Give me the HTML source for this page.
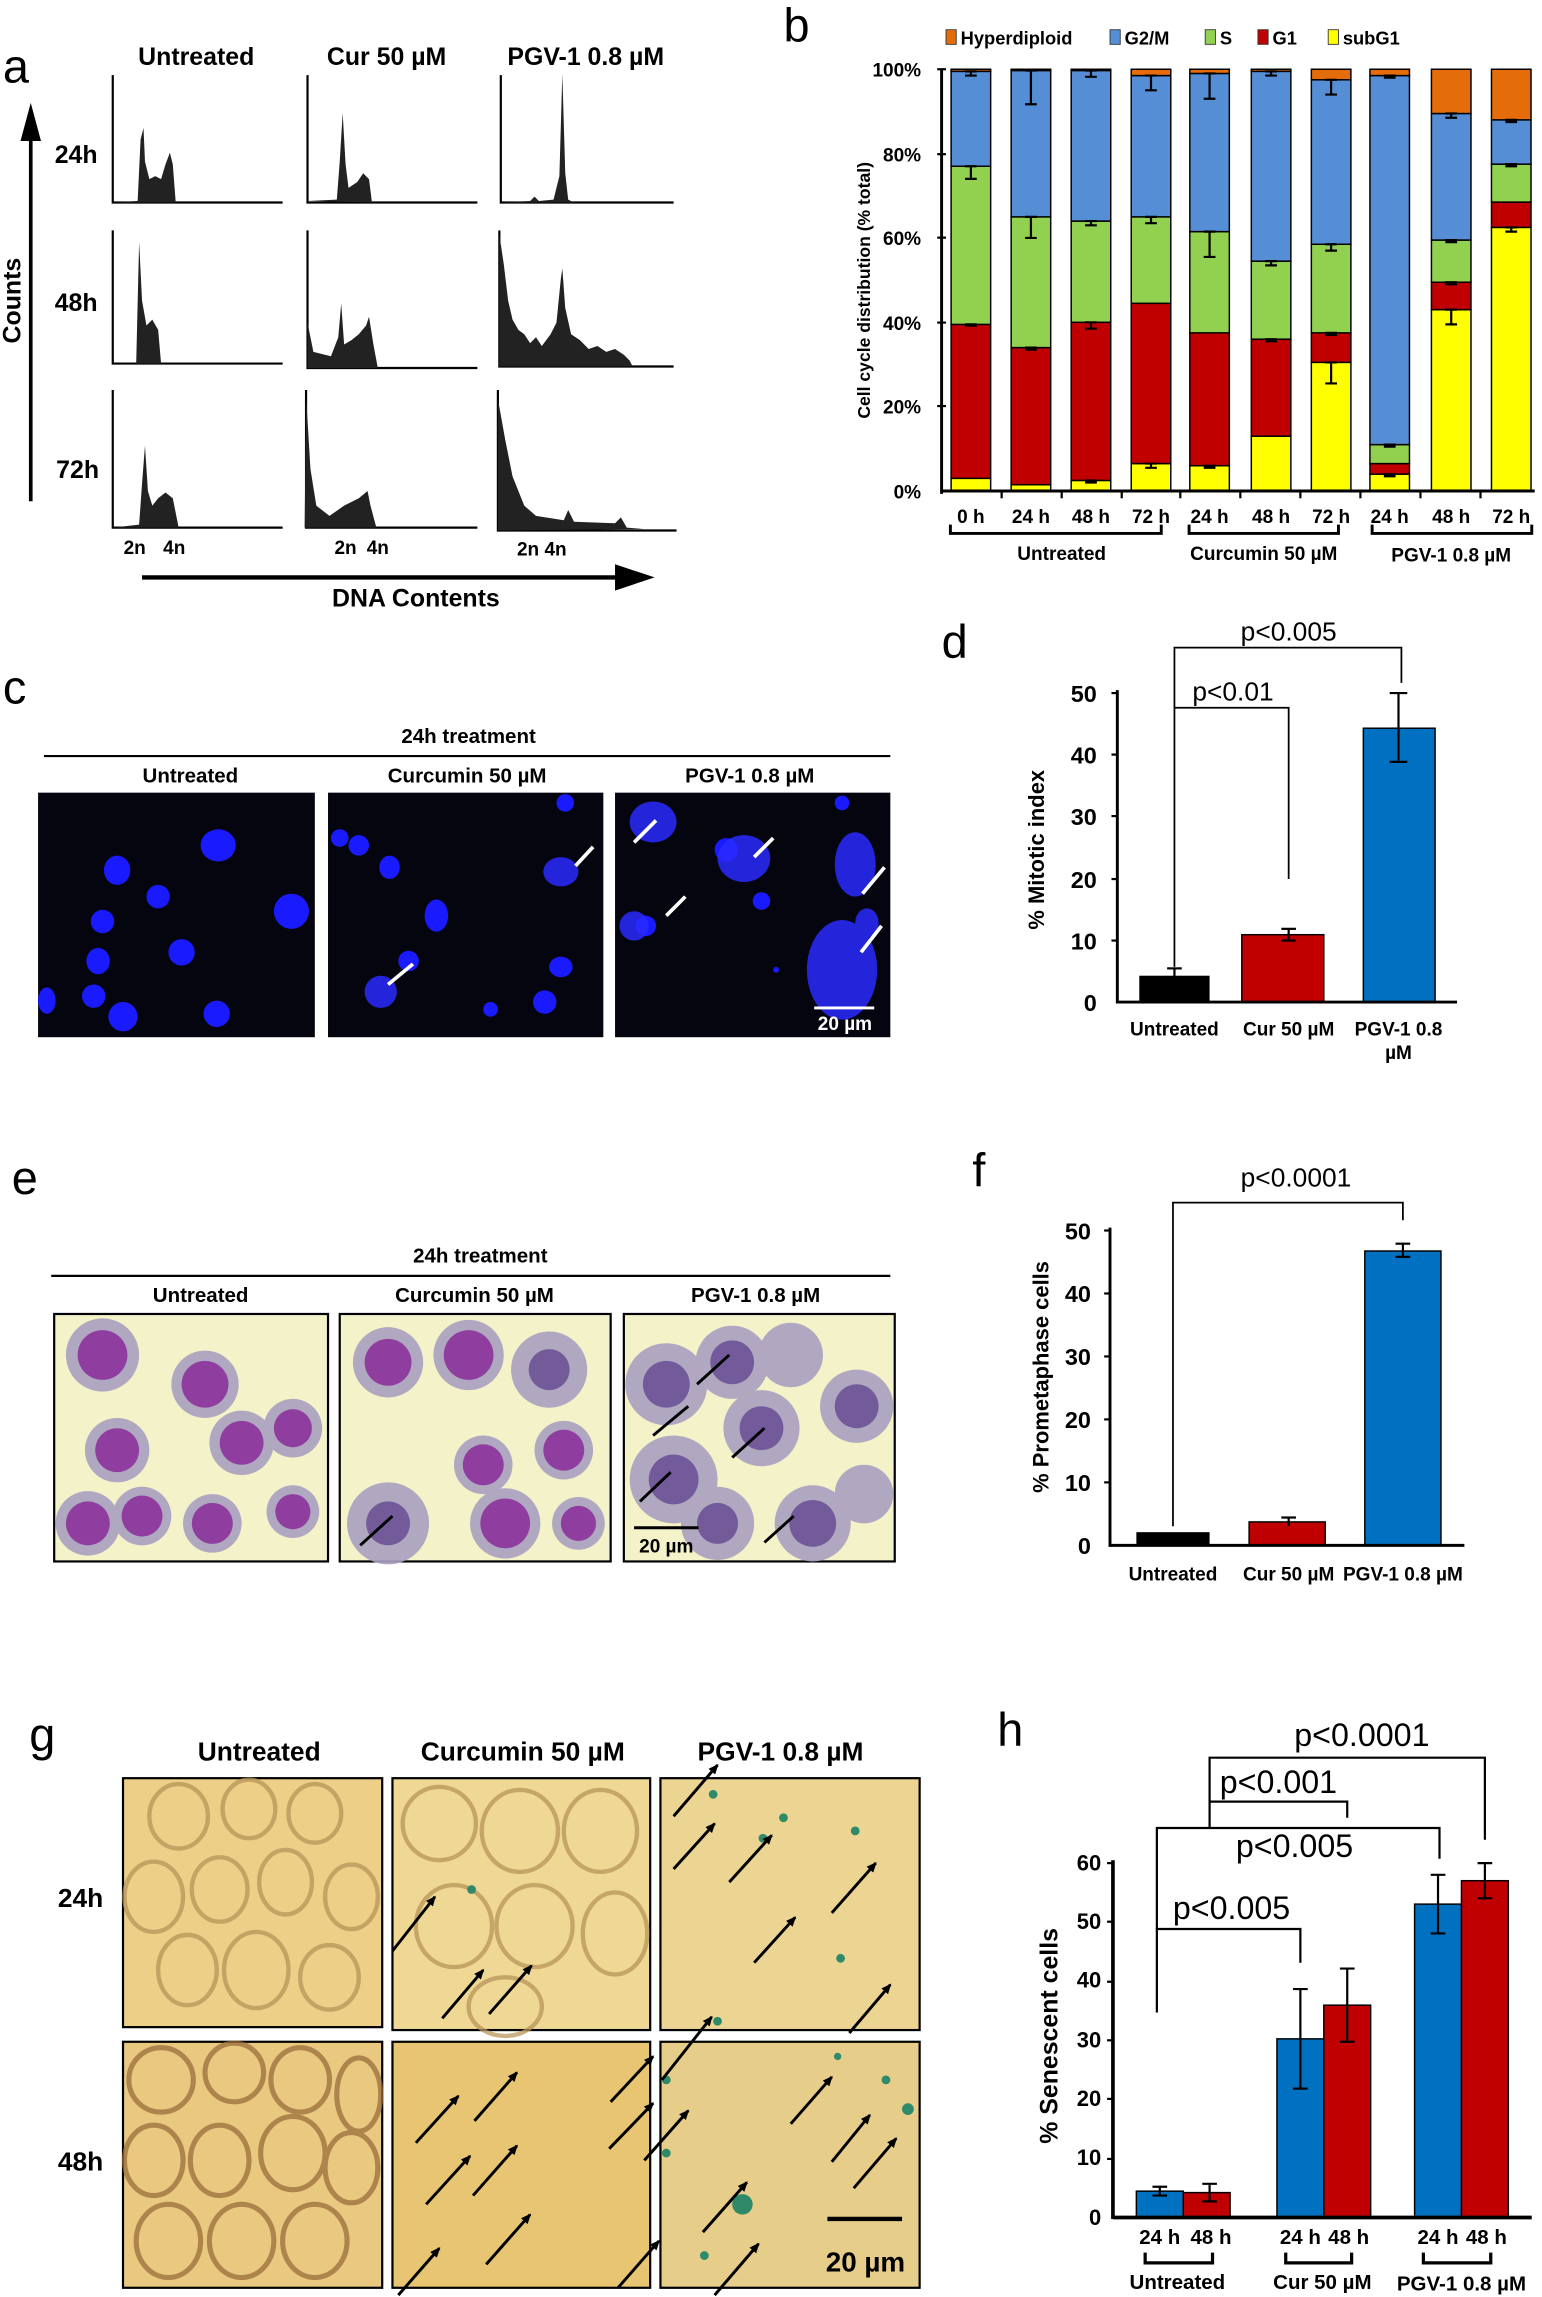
<!DOCTYPE html>
<html><head><meta charset="utf-8"><style>
html,body{margin:0;padding:0;background:#fff}
svg{display:block}
text{font-family:"Liberation Sans Narrow","Liberation Sans",sans-serif}
.b{font-weight:bold}
.L{font-family:"Liberation Sans",sans-serif;font-size:32px}
.p{font-family:"Liberation Sans",sans-serif;font-weight:normal}
</style></head><body>
<svg width="1542" height="2297" viewBox="0 0 1053 1568" xmlns="http://www.w3.org/2000/svg">
<defs>
<marker id="ah" markerWidth="8" markerHeight="8" refX="6" refY="4" orient="auto" markerUnits="userSpaceOnUse"><path d="M0,1 L7,4 L0,7 Z" fill="#000"/></marker>
</defs>
<!-- ===== Panel a ===== -->
<text x="2" y="56" class="L">a</text>
<g class="b" font-size="17" text-anchor="middle" font-weight="bold">
<text x="134" y="44">Untreated</text><text x="264" y="44">Cur 50 µM</text><text x="400" y="44">PGV-1 0.8 µM</text>
<text x="52" y="111">24h</text><text x="52" y="212">48h</text><text x="53" y="326">72h</text>
</g>
<line x1="21" y1="342" x2="21" y2="92" stroke="#000" stroke-width="2.5"/>
<path d="M14,96 L21,70 L28,96 Z" fill="#000"/>
<text transform="translate(14,205) rotate(-90)" text-anchor="middle" font-size="17" font-weight="bold" font-family="Liberation Sans" style="font-family:'Liberation Sans',sans-serif">Counts</text>
<g stroke="#000" stroke-width="1.5" fill="none">
<path d="M77,51 V138 H193"/><path d="M210,51 V138 H326"/><path d="M342,51 V138 H460"/>
<path d="M77,157 V248 H193"/><path d="M210,157 V251 H326"/><path d="M341,157 V250 H460"/>
<path d="M77,266 V360 H193"/><path d="M209,266 V360 H326"/><path d="M340,266 V362 H462"/>
</g>
<g fill="#222">
<path d="M77,138 L94,137 L96,95 L98,87 L99,110 L102,122 L106,120 L110,122 L113,112 L116,104 L118,112 L120,138 Z"/>
<path d="M210,137 L230,136 L232,110 L234,77 L236,112 L238,128 L244,124 L248,118 L252,122 L254,138 Z"/>
<path d="M342,138 L362,137 L365,134 L368,137 L378,136 L382,120 L384,50 L386,118 L388,136 L392,138 Z"/>
<path d="M77,248 L93,248 L95,165 L97,205 L100,222 L104,218 L108,225 L110,248 Z"/>
<path d="M210,251 L210,220 L214,240 L226,243 L231,230 L233,207 L235,235 L240,232 L245,228 L250,222 L252,216 L255,235 L258,251 Z"/>
<path d="M341,250 L341,160 L344,180 L347,205 L350,218 L354,225 L358,228 L362,234 L366,230 L370,236 L376,228 L380,220 L383,190 L384,183 L386,210 L390,228 L396,232 L402,238 L408,236 L414,240 L420,238 L426,242 L430,246 L432,250 Z"/>
<path d="M77,360 L95,358 L97,330 L99,304 L101,335 L104,345 L108,340 L113,336 L118,340 L122,360 Z"/>
<path d="M208,360 L209,270 L212,320 L216,345 L225,352 L235,345 L245,340 L251,335 L253,345 L257,360 Z"/>
<path d="M340,362 L340,272 L345,300 L350,325 L358,345 L366,352 L385,355 L388,348 L392,356 L420,357 L424,353 L428,360 L440,361 Z"/>
</g>
<g font-size="13" font-weight="bold" text-anchor="middle">
<text x="92" y="378">2n</text><text x="119" y="378">4n</text>
<text x="236" y="378">2n</text><text x="258" y="378">4n</text>
<text x="370" y="379">2n 4n</text>
</g>
<line x1="97" y1="394" x2="425" y2="394" stroke="#000" stroke-width="3"/>
<path d="M420,385 L447,394 L420,403 Z" fill="#000"/>
<text x="284" y="414" text-anchor="middle" font-size="17" font-weight="bold">DNA Contents</text>

<!-- ===== Panel b ===== -->
<text x="535" y="28" class="L">b</text>
<g font-size="12.5" font-weight="bold">
<rect x="646" y="20" width="7" height="10" fill="#e46c0a" stroke="#333" stroke-width="0.6"/><text x="656" y="30">Hyperdiploid</text>
<rect x="758" y="20" width="7" height="10" fill="#558ed5" stroke="#333" stroke-width="0.6"/><text x="768" y="30">G2/M</text>
<rect x="823" y="20" width="7" height="10" fill="#92d050" stroke="#333" stroke-width="0.6"/><text x="833" y="30">S</text>
<rect x="859" y="20" width="7" height="10" fill="#c00000" stroke="#333" stroke-width="0.6"/><text x="869" y="30">G1</text>
<rect x="907" y="20" width="7" height="10" fill="#ffff00" stroke="#333" stroke-width="0.6"/><text x="917" y="30">subG1</text>
</g>
<g font-size="13" font-weight="bold" text-anchor="end">
<text x="629" y="52">100%</text><text x="629" y="110">80%</text><text x="629" y="167">60%</text>
<text x="629" y="225">40%</text><text x="629" y="282">20%</text><text x="629" y="340">0%</text>
</g>
<text transform="translate(594,198) rotate(-90)" text-anchor="middle" font-size="12" font-weight="bold" style="font-family:'Liberation Sans',sans-serif">Cell  cycle distribution  (% total)</text>
<g id="bbars" stroke="#000" stroke-width="1"></g>
<line x1="643" y1="47" x2="643" y2="337" stroke="#000" stroke-width="2"/>
<line x1="643" y1="335" x2="1048" y2="335" stroke="#000" stroke-width="2"/>
<g stroke="#000" stroke-width="1.5">
<line x1="640" y1="47" x2="646" y2="47"/><line x1="640" y1="105" x2="646" y2="105"/><line x1="640" y1="162" x2="646" y2="162"/><line x1="640" y1="220" x2="646" y2="220"/><line x1="640" y1="277" x2="646" y2="277"/>
<line x1="684" y1="335" x2="684" y2="340"/><line x1="725" y1="335" x2="725" y2="340"/><line x1="766" y1="335" x2="766" y2="340"/><line x1="806" y1="335" x2="806" y2="340"/><line x1="847" y1="335" x2="847" y2="340"/><line x1="888" y1="335" x2="888" y2="340"/><line x1="929" y1="335" x2="929" y2="340"/><line x1="970" y1="335" x2="970" y2="340"/><line x1="1011" y1="335" x2="1011" y2="340"/>
</g>
<g font-size="13" font-weight="bold" text-anchor="middle">
<text x="663" y="357">0 h</text><text x="704" y="357">24 h</text><text x="745" y="357">48 h</text><text x="786" y="357">72 h</text>
<text x="826" y="357">24 h</text><text x="868" y="357">48 h</text><text x="909" y="357">72 h</text>
<text x="949" y="357">24 h</text><text x="991" y="357">48 h</text><text x="1032" y="357">72 h</text>
<text x="725" y="382">Untreated</text><text x="863" y="382">Curcumin 50 µM</text><text x="991" y="383">PGV-1 0.8 µM</text>
</g>
<g fill="none" stroke="#000" stroke-width="2">
<path d="M649,358 V364 H793 V358"/><path d="M812,358 V364 H914 V358"/><path d="M937,358 V364 H1046 V358"/>
</g>

<!-- ===== Panel c ===== -->
<text x="2" y="480" class="L">c</text>
<g font-size="14" font-weight="bold" text-anchor="middle">
<text x="320" y="507">24h treatment</text>
<text x="130" y="534">Untreated</text><text x="319" y="534">Curcumin 50 µM</text><text x="512" y="534">PGV-1 0.8 µM</text>
</g>
<line x1="30" y1="516" x2="608" y2="516" stroke="#000" stroke-width="1.5"/>
<rect x="26" y="541" width="189" height="167" fill="#050510"/>
<rect x="224" y="541" width="188" height="167" fill="#050510"/>
<rect x="420" y="541" width="188" height="167" fill="#050510"/>
<g fill="#1a1aff">
<ellipse cx="149" cy="577" rx="12" ry="11"/><ellipse cx="80" cy="594" rx="9" ry="10"/><ellipse cx="108" cy="612" rx="8" ry="8"/><ellipse cx="199" cy="622" rx="12" ry="12"/><ellipse cx="70" cy="629" rx="8" ry="8"/><ellipse cx="124" cy="650" rx="9" ry="9"/><ellipse cx="67" cy="656" rx="8" ry="9"/><ellipse cx="32" cy="683" rx="6" ry="9"/><ellipse cx="64" cy="680" rx="8" ry="8"/><ellipse cx="84" cy="694" rx="10" ry="10"/><ellipse cx="148" cy="692" rx="9" ry="9"/>
<ellipse cx="232" cy="572" rx="6" ry="6"/><ellipse cx="245" cy="577" rx="7" ry="7"/><ellipse cx="266" cy="592" rx="7" ry="8"/><ellipse cx="298" cy="625" rx="8" ry="11"/><ellipse cx="279" cy="656" rx="7" ry="7"/><ellipse cx="386" cy="548" rx="6" ry="6"/><ellipse cx="383" cy="660" rx="8" ry="7"/><ellipse cx="372" cy="684" rx="8" ry="8"/><ellipse cx="335" cy="689" rx="5" ry="5"/>
<ellipse cx="441" cy="632" rx="7" ry="7"/><ellipse cx="496" cy="580" rx="8" ry="8"/><ellipse cx="520" cy="615" rx="6" ry="6"/><ellipse cx="575" cy="548" rx="5" ry="5"/><ellipse cx="530" cy="662" rx="2" ry="2"/>
</g>
<g fill="#2a2aff" opacity="0.85">
<ellipse cx="383" cy="595" rx="12" ry="10"/><ellipse cx="260" cy="677" rx="11" ry="11"/>
<ellipse cx="446" cy="561" rx="16" ry="14"/><ellipse cx="508" cy="586" rx="18" ry="16"/><ellipse cx="584" cy="590" rx="14" ry="22"/><ellipse cx="433" cy="632" rx="10" ry="10"/><ellipse cx="575" cy="662" rx="24" ry="34"/><ellipse cx="592" cy="630" rx="8" ry="10"/>
</g>
<g stroke="#fff" stroke-width="2.5">
<line x1="393" y1="591" x2="405" y2="578"/><line x1="265" y1="672" x2="282" y2="658"/>
<line x1="433" y1="575" x2="448" y2="560"/><line x1="515" y1="585" x2="528" y2="572"/><line x1="455" y1="625" x2="468" y2="612"/><line x1="589" y1="610" x2="604" y2="592"/><line x1="588" y1="650" x2="602" y2="632"/>
</g>
<line x1="556" y1="688" x2="597" y2="688" stroke="#fff" stroke-width="2"/>
<text x="577" y="703" text-anchor="middle" fill="#fff" font-size="13" font-weight="bold">20 µm</text>

<!-- ===== Panel d ===== -->
<text x="643" y="449" class="L">d</text>
<g font-size="16" text-anchor="end" font-weight="bold">
<text x="749" y="479">50</text><text x="749" y="521">40</text><text x="749" y="563">30</text><text x="749" y="606">20</text><text x="749" y="648">10</text><text x="749" y="690">0</text>
</g>
<text transform="translate(713,580) rotate(-90)" text-anchor="middle" font-size="15" font-weight="bold" style="font-family:'Liberation Sans',sans-serif">% Mitotic index</text>
<rect x="778" y="666" width="48" height="18" fill="#000"/>
<rect x="848" y="638" width="56" height="46" fill="#c00000" stroke="#000"/>
<rect x="931" y="497" width="49" height="187" fill="#0070c0" stroke="#000"/>
<g stroke="#000" stroke-width="1.5">
<line x1="802" y1="661" x2="802" y2="671"/><line x1="797" y1="661" x2="807" y2="661"/>
<line x1="880" y1="634" x2="880" y2="642"/><line x1="875" y1="634" x2="885" y2="634"/><line x1="875" y1="642" x2="885" y2="642"/>
<line x1="955" y1="473" x2="955" y2="520"/><line x1="949" y1="473" x2="961" y2="473"/><line x1="949" y1="520" x2="961" y2="520"/>
</g>
<line x1="763" y1="471" x2="763" y2="685" stroke="#000" stroke-width="2"/>
<line x1="763" y1="684" x2="995" y2="684" stroke="#000" stroke-width="2"/>
<g stroke="#000" stroke-width="1.5">
<line x1="759" y1="473" x2="763" y2="473"/><line x1="759" y1="515" x2="763" y2="515"/><line x1="759" y1="557" x2="763" y2="557"/><line x1="759" y1="600" x2="763" y2="600"/><line x1="759" y1="642" x2="763" y2="642"/>
</g>
<g font-size="13" font-weight="bold" text-anchor="middle">
<text x="802" y="707">Untreated</text><text x="880" y="707">Cur 50 µM</text><text x="955" y="707">PGV-1 0.8</text><text x="955" y="723">µM</text>
</g>
<g fill="none" stroke="#000" stroke-width="1.2">
<path d="M802,660 V483 H880 V600"/><path d="M802,483 V442 H957 V466"/>
</g>
<g font-size="18" text-anchor="middle" class="p">
<text x="842" y="478">p&lt;0.01</text><text x="880" y="437">p&lt;0.005</text>
</g>

<!-- ===== Panel e ===== -->
<text x="8" y="815" class="L">e</text>
<g font-size="14" font-weight="bold" text-anchor="middle">
<text x="328" y="862">24h treatment</text>
<text x="137" y="889">Untreated</text><text x="324" y="889">Curcumin 50 µM</text><text x="516" y="889">PGV-1 0.8 µM</text>
</g>
<line x1="35" y1="871" x2="608" y2="871" stroke="#000" stroke-width="1.5"/>
<g stroke="#000" stroke-width="1.5">
<rect x="37" y="897" width="187" height="169" fill="#f4f2c8"/>
<rect x="232" y="897" width="185" height="169" fill="#f4f2c8"/>
<rect x="426" y="897" width="185" height="169" fill="#f4f2c8"/>
</g>
<g fill="#a9a0c0" opacity="0.9">
<circle cx="70" cy="925" r="25"/><circle cx="140" cy="945" r="23"/><circle cx="80" cy="990" r="22"/><circle cx="165" cy="985" r="22"/><circle cx="200" cy="975" r="20"/><circle cx="60" cy="1040" r="22"/><circle cx="97" cy="1035" r="20"/><circle cx="145" cy="1040" r="20"/><circle cx="200" cy="1032" r="18"/>
<circle cx="265" cy="930" r="24"/><circle cx="320" cy="925" r="24"/><circle cx="375" cy="935" r="26"/><circle cx="265" cy="1040" r="28"/><circle cx="330" cy="1000" r="20"/><circle cx="385" cy="990" r="20"/><circle cx="345" cy="1040" r="24"/><circle cx="395" cy="1040" r="18"/>
<circle cx="455" cy="945" r="28"/><circle cx="500" cy="930" r="25"/><circle cx="540" cy="925" r="22"/><circle cx="585" cy="960" r="25"/><circle cx="460" cy="1010" r="30"/><circle cx="520" cy="975" r="26"/><circle cx="555" cy="1040" r="26"/><circle cx="490" cy="1040" r="25"/><circle cx="590" cy="1020" r="20"/>
</g>
<g fill="#8a2c9a" opacity="0.85">
<circle cx="70" cy="925" r="17"/><circle cx="140" cy="945" r="16"/><circle cx="80" cy="990" r="15"/><circle cx="165" cy="985" r="15"/><circle cx="200" cy="975" r="13"/><circle cx="60" cy="1040" r="15"/><circle cx="97" cy="1035" r="14"/><circle cx="145" cy="1040" r="14"/><circle cx="200" cy="1032" r="12"/>
<circle cx="265" cy="930" r="16"/><circle cx="320" cy="925" r="17"/><circle cx="330" cy="1000" r="14"/><circle cx="385" cy="990" r="14"/><circle cx="345" cy="1040" r="17"/><circle cx="395" cy="1040" r="12"/>
</g>
<g fill="#5a3a8a" opacity="0.7">
<circle cx="375" cy="935" r="14"/><circle cx="265" cy="1040" r="15"/><circle cx="455" cy="945" r="16"/><circle cx="500" cy="930" r="15"/><circle cx="585" cy="960" r="15"/><circle cx="460" cy="1010" r="17"/><circle cx="520" cy="975" r="15"/><circle cx="555" cy="1040" r="16"/><circle cx="490" cy="1040" r="14"/>
</g>
<g stroke="#000" stroke-width="2">
<line x1="246" y1="1055" x2="268" y2="1035"/><line x1="437" y1="1025" x2="458" y2="1005"/><line x1="446" y1="980" x2="470" y2="960"/><line x1="476" y1="945" x2="498" y2="925"/><line x1="500" y1="995" x2="522" y2="975"/><line x1="522" y1="1053" x2="542" y2="1035"/>
</g>
<line x1="433" y1="1043" x2="477" y2="1043" stroke="#000" stroke-width="2"/>
<text x="455" y="1060" text-anchor="middle" font-size="13" font-weight="bold">20 µm</text>

<!-- ===== Panel f ===== -->
<text x="664" y="810" class="L">f</text>
<g font-size="16" text-anchor="end" font-weight="bold">
<text x="745" y="846">50</text><text x="745" y="889">40</text><text x="745" y="932">30</text><text x="745" y="975">20</text><text x="745" y="1018">10</text><text x="745" y="1061">0</text>
</g>
<text transform="translate(716,940) rotate(-90)" text-anchor="middle" font-size="15" font-weight="bold" style="font-family:'Liberation Sans',sans-serif">% Prometaphase cells</text>
<rect x="776" y="1046" width="50" height="9" fill="#000"/>
<rect x="853" y="1039" width="52" height="16" fill="#c00000" stroke="#000"/>
<rect x="932" y="854" width="52" height="201" fill="#0070c0" stroke="#000"/>
<g stroke="#000" stroke-width="1.5">
<line x1="958" y1="849" x2="958" y2="858"/><line x1="953" y1="849" x2="963" y2="849"/><line x1="953" y1="858" x2="963" y2="858"/>
<line x1="880" y1="1036" x2="880" y2="1042"/><line x1="875" y1="1036" x2="885" y2="1036"/>
</g>
<line x1="758" y1="838" x2="758" y2="1056" stroke="#000" stroke-width="2"/>
<line x1="758" y1="1055" x2="1000" y2="1055" stroke="#000" stroke-width="2"/>
<g stroke="#000" stroke-width="1.5">
<line x1="754" y1="840" x2="758" y2="840"/><line x1="754" y1="883" x2="758" y2="883"/><line x1="754" y1="926" x2="758" y2="926"/><line x1="754" y1="969" x2="758" y2="969"/><line x1="754" y1="1012" x2="758" y2="1012"/>
</g>
<g font-size="13" font-weight="bold" text-anchor="middle">
<text x="801" y="1079">Untreated</text><text x="880" y="1079">Cur 50 µM</text><text x="958" y="1079">PGV-1 0.8 µM</text>
</g>
<path d="M801,1042 V821 H958 V833" fill="none" stroke="#000" stroke-width="1.2"/>
<text x="885" y="810" text-anchor="middle" font-size="18" class="p">p&lt;0.0001</text>

<!-- ===== Panel g ===== -->
<text x="20" y="1195" class="L">g</text>
<g font-size="18" font-weight="bold" text-anchor="middle">
<text x="177" y="1202">Untreated</text><text x="357" y="1202">Curcumin 50 µM</text><text x="533" y="1202">PGV-1 0.8 µM</text>
<text x="55" y="1302">24h</text><text x="55" y="1482">48h</text>
</g>
<g stroke="#000" stroke-width="1.5">
<rect x="84" y="1214" width="177" height="170" fill="#edcf87"/>
<rect x="268" y="1214" width="176" height="172" fill="#eed894"/>
<rect x="451" y="1214" width="177" height="172" fill="#ecd493"/>
<rect x="84" y="1394" width="177" height="168" fill="#e9c880"/>
<rect x="268" y="1394" width="176" height="168" fill="#e7c572"/>
<rect x="451" y="1394" width="177" height="168" fill="#e6cd8a"/>
</g>
<g fill="none" stroke="#b8955a" stroke-width="3" opacity="0.75">
<ellipse cx="122" cy="1240" rx="20" ry="22"/><ellipse cx="170" cy="1235" rx="18" ry="20"/><ellipse cx="215" cy="1238" rx="18" ry="20"/><ellipse cx="105" cy="1295" rx="20" ry="24"/><ellipse cx="150" cy="1290" rx="19" ry="22"/><ellipse cx="195" cy="1285" rx="18" ry="22"/><ellipse cx="240" cy="1295" rx="18" ry="22"/><ellipse cx="128" cy="1345" rx="20" ry="24"/><ellipse cx="175" cy="1345" rx="22" ry="26"/><ellipse cx="225" cy="1350" rx="20" ry="22"/>
<ellipse cx="300" cy="1245" rx="25" ry="25"/><ellipse cx="355" cy="1250" rx="26" ry="28"/><ellipse cx="410" cy="1250" rx="25" ry="28"/><ellipse cx="310" cy="1315" rx="26" ry="28"/><ellipse cx="365" cy="1315" rx="26" ry="28"/><ellipse cx="420" cy="1320" rx="22" ry="28"/><ellipse cx="345" cy="1370" rx="25" ry="20"/>
</g>
<g fill="none" stroke="#9a6e3a" stroke-width="3.5" opacity="0.75">
<ellipse cx="110" cy="1420" rx="22" ry="22"/><ellipse cx="160" cy="1415" rx="20" ry="20"/><ellipse cx="205" cy="1420" rx="20" ry="22"/><ellipse cx="245" cy="1430" rx="15" ry="25"/><ellipse cx="105" cy="1475" rx="20" ry="24"/><ellipse cx="150" cy="1475" rx="20" ry="24"/><ellipse cx="200" cy="1470" rx="22" ry="25"/><ellipse cx="240" cy="1480" rx="18" ry="24"/><ellipse cx="115" cy="1530" rx="22" ry="25"/><ellipse cx="165" cy="1530" rx="22" ry="25"/><ellipse cx="215" cy="1530" rx="22" ry="25"/>
</g>
<g fill="#2f8a6a">
<circle cx="322" cy="1290" r="3"/><circle cx="487" cy="1225" r="3"/><circle cx="521" cy="1255" r="3"/><circle cx="535" cy="1241" r="3"/><circle cx="584" cy="1250" r="3"/><circle cx="574" cy="1337" r="3"/><circle cx="490" cy="1380" r="3"/>
<circle cx="507" cy="1505" r="7"/><circle cx="572" cy="1404" r="2.5"/><circle cx="455" cy="1420" r="3"/><circle cx="455" cy="1470" r="3"/><circle cx="620" cy="1440" r="4"/><circle cx="605" cy="1420" r="3"/><circle cx="481" cy="1540" r="3"/>
</g>
<g stroke="#000" stroke-width="2" marker-end="url(#ah)">
<line x1="268" y1="1332" x2="297" y2="1295"/><line x1="302" y1="1378" x2="330" y2="1345"/><line x1="334" y1="1375" x2="363" y2="1342"/>
<line x1="460" y1="1240" x2="490" y2="1205"/><line x1="460" y1="1276" x2="488" y2="1245"/><line x1="498" y1="1285" x2="527" y2="1253"/><line x1="515" y1="1340" x2="543" y2="1309"/><line x1="568" y1="1306" x2="598" y2="1272"/><line x1="580" y1="1388" x2="608" y2="1355"/>
<line x1="452" y1="1420" x2="486" y2="1377"/><line x1="284" y1="1463" x2="313" y2="1431"/><line x1="324" y1="1448" x2="353" y2="1415"/><line x1="291" y1="1505" x2="321" y2="1472"/><line x1="323" y1="1499" x2="353" y2="1465"/><line x1="332" y1="1546" x2="362" y2="1512"/><line x1="272" y1="1567" x2="300" y2="1535"/>
<line x1="417" y1="1435" x2="446" y2="1404"/><line x1="416" y1="1467" x2="446" y2="1436"/><line x1="440" y1="1475" x2="470" y2="1441"/><line x1="422" y1="1562" x2="450" y2="1530"/><line x1="488" y1="1567" x2="518" y2="1532"/><line x1="480" y1="1524" x2="510" y2="1490"/><line x1="540" y1="1450" x2="568" y2="1418"/><line x1="568" y1="1476" x2="594" y2="1444"/><line x1="583" y1="1494" x2="612" y2="1460"/>
</g>
<line x1="565" y1="1515" x2="616" y2="1515" stroke="#000" stroke-width="3"/>
<text x="591" y="1551" text-anchor="middle" font-size="19" font-weight="bold">20 µm</text>

<!-- ===== Panel h ===== -->
<text x="681" y="1192" class="L">h</text>
<g font-size="15" text-anchor="end" font-weight="bold">
<text x="752" y="1277">60</text><text x="752" y="1317">50</text><text x="752" y="1357">40</text><text x="752" y="1398">30</text><text x="752" y="1438">20</text><text x="752" y="1478">10</text><text x="752" y="1519">0</text>
</g>
<text transform="translate(722,1390) rotate(-90)" text-anchor="middle" font-size="17" font-weight="bold" style="font-family:'Liberation Sans',sans-serif">% Senescent cells</text>
<g stroke="#000" stroke-width="1">
<rect x="776" y="1496" width="32" height="18" fill="#0070c0"/><rect x="808" y="1497" width="32" height="17" fill="#c00000"/>
<rect x="872" y="1392" width="32" height="122" fill="#0070c0"/><rect x="904" y="1369" width="32" height="145" fill="#c00000"/>
<rect x="966" y="1300" width="32" height="214" fill="#0070c0"/><rect x="998" y="1284" width="32" height="230" fill="#c00000"/>
</g>
<g stroke="#000" stroke-width="1.5" fill="none">
<path d="M792,1493 V1499 M787,1493 H797 M787,1499 H797"/>
<path d="M826,1491 V1503 M821,1491 H831 M821,1503 H831"/>
<path d="M888,1358 V1426 M883,1358 H893 M883,1426 H893"/>
<path d="M920,1344 V1394 M915,1344 H925 M915,1394 H925"/>
<path d="M982,1280 V1320 M977,1280 H987 M977,1320 H987"/>
<path d="M1014,1272 V1296 M1009,1272 H1019 M1009,1296 H1019"/>
</g>
<line x1="760" y1="1270" x2="760" y2="1515" stroke="#000" stroke-width="2.5"/>
<line x1="760" y1="1514" x2="1046" y2="1514" stroke="#000" stroke-width="2.5"/>
<g stroke="#000" stroke-width="1.5">
<line x1="756" y1="1272" x2="760" y2="1272"/><line x1="756" y1="1312" x2="760" y2="1312"/><line x1="756" y1="1353" x2="760" y2="1353"/><line x1="756" y1="1393" x2="760" y2="1393"/><line x1="756" y1="1433" x2="760" y2="1433"/><line x1="756" y1="1474" x2="760" y2="1474"/>
</g>
<g font-size="14" font-weight="bold" text-anchor="middle">
<text x="792" y="1532">24 h</text><text x="827" y="1532">48 h</text><text x="888" y="1532">24 h</text><text x="921" y="1532">48 h</text><text x="982" y="1532">24 h</text><text x="1015" y="1532">48 h</text>
<text x="804" y="1563">Untreated</text><text x="903" y="1563">Cur 50 µM</text><text x="998" y="1564">PGV-1 0.8 µM</text>
</g>
<g fill="none" stroke="#000" stroke-width="2.2">
<path d="M782,1538 V1545 H828 V1538"/><path d="M878,1538 V1545 H923 V1538"/><path d="M972,1538 V1545 H1018 V1538"/>
</g>
<g fill="none" stroke="#000" stroke-width="1.5">
<path d="M790,1374 V1317 H888 V1340"/>
<path d="M790,1317 V1248 H983 V1269"/>
<path d="M826,1248 V1230 H920 V1241"/>
<path d="M826,1230 V1200 H1014 V1256"/>
</g>
<g font-size="22" text-anchor="middle" class="p">
<text x="841" y="1310">p&lt;0.005</text><text x="884" y="1268">p&lt;0.005</text><text x="873" y="1224">p&lt;0.001</text><text x="930" y="1192">p&lt;0.0001</text>
</g>

<script>
(function(){
var g=document.getElementById('bbars');
var xs=[663,704,745,786,826,868,909,949,991,1032];
var d=[[3,39.5,77,99.5],[1.5,34,65,99.7],[2.5,40,64,99.7],[6.5,44.5,65,98.5],[6,37.5,61.5,99],[13,36,54.5,99.5],[30.5,37.5,58.5,97.5],[4,6.5,11,98.5],[43,49.5,59.5,89.5],[62.5,68.5,77.5,88]];
var cols=['#ffff00','#c00000','#92d050','#558ed5','#e46c0a'];
var err=[[0,0.3,3,1],[0,0.5,5,8],[0.5,1.5,1,1.5],[1,0,1.5,3.5],[0.5,0,6,6],[0,0.5,1,1],[5,0.5,1.5,3.5],[0.5,0,0.5,0.5],[3.5,0.5,0.5,1],[1,0,0.5,0.5]];
var ns='http://www.w3.org/2000/svg';
function Y(p){return 335-2.88*p;}
for(var i=0;i<10;i++){
 var prev=0, v=d[i].concat([100]);
 for(var k=0;k<5;k++){
  var top=v[k]; if(top<=prev)continue;
  var r=document.createElementNS(ns,'rect');
  r.setAttribute('x',xs[i]-13.5);r.setAttribute('width',27);
  r.setAttribute('y',Y(top));r.setAttribute('height',Y(prev)-Y(top));
  r.setAttribute('fill',cols[k]);g.appendChild(r);
  prev=top;
 }
 for(var k=0;k<4;k++){
  var e=err[i][k]; if(!e)continue; var yy=Y(d[i][k]), y2=Y(d[i][k]-e);
  var l=document.createElementNS(ns,'path');
  l.setAttribute('d','M'+xs[i]+','+yy+' V'+y2+' M'+(xs[i]-4)+','+y2+' H'+(xs[i]+4)+' M'+(xs[i]-4)+','+yy+' H'+(xs[i]+4));
  l.setAttribute('stroke','#000');l.setAttribute('stroke-width','1.5');g.appendChild(l);
 }
}
})();
</script>
</svg>
</body></html>
